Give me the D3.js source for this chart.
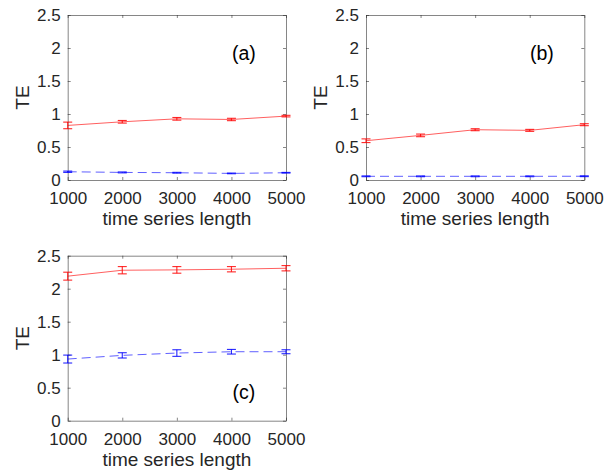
<!DOCTYPE html>
<html><head><meta charset="utf-8">
<script src="https://cdn.jsdelivr.net/npm/d3@7"></script>
<style>body{margin:0;background:#fff}svg{display:block}</style>
</head><body>
<script>
const lengths = [1000, 2000, 3000, 4000, 5000];
const xTicks = [1000, 2000, 3000, 4000, 5000];
const yTicks = [0, 0.5, 1, 1.5, 2, 2.5];
const yTickLabels = ["0", "0.5", "1", "1.5", "2", "2.5"];
const panelLabels = ["(a)", "(b)", "(c)"];

const aRed = [0.827, 0.882, 0.927, 0.917, 0.968];
const aRedErr = [0.05, 0.02, 0.02, 0.018, 0.012];
const aBlue = [0.125, 0.115, 0.11, 0.10, 0.11];
const aBlueErr = [0.01, 0.007, 0.006, 0.005, 0.005];

const bRed = [0.595, 0.676, 0.762, 0.752, 0.838];
const bRedErr = [0.028, 0.02, 0.015, 0.015, 0.015];
const bBlue = [0.056, 0.056, 0.056, 0.056, 0.057];
const bBlueErr = [0.006, 0.006, 0.006, 0.006, 0.006];

const cRed = [2.19, 2.28, 2.285, 2.295, 2.31];
const cRedErr = [0.06, 0.055, 0.05, 0.04, 0.04];
const cBlue = [0.934, 0.99, 1.025, 1.045, 1.045];
const cBlueErr = [0.06, 0.04, 0.05, 0.035, 0.03];

const panels = [
  {label: panelLabels[0], red: aRed, redErr: aRedErr, blue: aBlue, blueErr: aBlueErr,
   x0: 67.7, x1: 286, y0: 15, y1: 180, lx: 232, ly: 53},
  {label: panelLabels[1], red: bRed, redErr: bRedErr, blue: bBlue, blueErr: bBlueErr,
   x0: 366, x1: 584.3, y0: 15, y1: 180, lx: 530, ly: 53},
  {label: panelLabels[2], red: cRed, redErr: cRedErr, blue: cBlue, blueErr: cBlueErr,
   x0: 67.7, x1: 286, y0: 255.7, y1: 420.7, lx: 232.5, ly: 392}
];

const svg = d3.select("body").append("svg").attr("width", 616).attr("height", 473);
const font = "'Liberation Sans', Arial, Helvetica, sans-serif";
const axisColor = "#262626";

panels.forEach(p => {
  const x = d3.scaleLinear().domain([1000, 5000]).range([p.x0, p.x1]);
  const y = d3.scaleLinear().domain([0, 2.5]).range([p.y1, p.y0]);
  const g = svg.append("g");

  const fmtY = d => yTickLabels[yTicks.indexOf(d)];
  const tl = 3;
  const left = g.append("g").attr("transform", `translate(${p.x0},0)`)
    .call(d3.axisLeft(y).tickValues(yTicks).tickFormat(fmtY).tickSizeInner(-tl).tickSizeOuter(0).tickPadding(7));
  const right = g.append("g").attr("transform", `translate(${p.x1},0)`)
    .call(d3.axisRight(y).tickValues(yTicks).tickFormat("").tickSizeInner(-tl).tickSizeOuter(0));
  const bottom = g.append("g").attr("transform", `translate(0,${p.y1})`)
    .call(d3.axisBottom(x).tickValues(xTicks).tickFormat(d3.format("d")).tickSizeInner(-tl).tickSizeOuter(0).tickPadding(12));
  const top = g.append("g").attr("transform", `translate(0,${p.y0})`)
    .call(d3.axisTop(x).tickValues(xTicks).tickFormat("").tickSizeInner(-tl).tickSizeOuter(0));
  [left, right, bottom, top].forEach(a => {
    a.selectAll(".domain").attr("stroke", axisColor).attr("stroke-width", 0.8).attr("opacity", 0.7);
    a.selectAll(".tick line").attr("stroke", axisColor).attr("stroke-width", 0.8).attr("opacity", 0.7);
    a.selectAll("text").attr("fill", axisColor).attr("font-family", font).attr("font-size", 17);
  });

  g.append("text").attr("x", (p.x0 + p.x1) / 2).attr("y", p.y1 + 45)
    .attr("text-anchor", "middle").attr("font-family", font).attr("font-size", 19)
    .attr("fill", axisColor).text("time series length");
  g.append("text").attr("transform", `translate(${p.x0 - 39},${(p.y0 + p.y1) / 2}) rotate(-90)`)
    .attr("text-anchor", "middle").attr("font-family", font).attr("font-size", 19)
    .attr("fill", axisColor).text("TE");
  g.append("text").attr("x", p.lx).attr("y", p.ly).attr("dy", "0.35em")
    .attr("font-family", font).attr("font-size", 19.5).attr("fill", "#000").text(p.label);

  const series = [
    {vals: p.blue, errs: p.blueErr, color: "#0000ff", dash: "9,5"},
    {vals: p.red, errs: p.redErr, color: "#ff0000", dash: null}
  ];
  series.forEach(s => {
    const pts = lengths.map((L, i) => ({L, v: s.vals[i], e: s.errs[i]}));
    const line = d3.line().x(d => x(d.L)).y(d => y(d.v));
    g.append("path").datum(pts).attr("d", line).attr("fill", "none")
      .attr("stroke", s.color).attr("stroke-width", 0.9).attr("stroke-opacity", 0.7)
      .attr("stroke-dasharray", s.dash);
    const eb = g.append("g").attr("stroke", s.color).attr("stroke-width", 1.1).attr("stroke-opacity", 0.85);
    pts.forEach(d => {
      eb.append("line").attr("x1", x(d.L)).attr("x2", x(d.L)).attr("y1", y(d.v - d.e)).attr("y2", y(d.v + d.e));
      eb.append("line").attr("x1", x(d.L) - 4.5).attr("x2", x(d.L) + 4.5).attr("y1", y(d.v - d.e)).attr("y2", y(d.v - d.e));
      eb.append("line").attr("x1", x(d.L) - 4.5).attr("x2", x(d.L) + 4.5).attr("y1", y(d.v + d.e)).attr("y2", y(d.v + d.e));
    });
  });
});
</script>
</body></html>
